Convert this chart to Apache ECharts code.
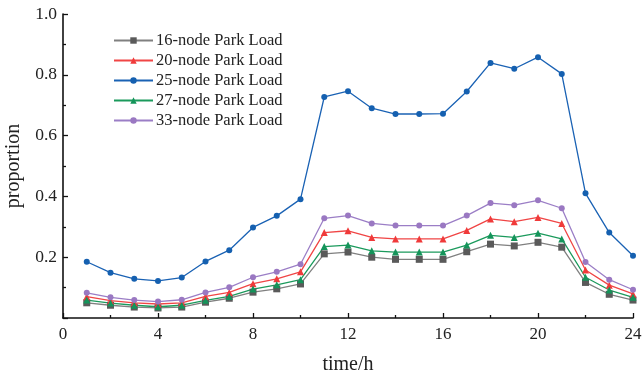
<!DOCTYPE html>
<html>
<head>
<meta charset="utf-8">
<script src="https://cdn.jsdelivr.net/npm/echarts@6/dist/echarts.min.js"></script>
<style>
  html, body { margin: 0; padding: 0; background: #fff; }
  #chart { width: 643px; height: 379px; }
</style>
</head>
<body>
<div id="chart"></div>
<script>
const hours = [1, 2, 3, 4, 5, 6, 7, 8, 9, 10, 11, 12, 13, 14, 15, 16, 17, 18, 19, 20, 21, 22, 23, 24];

const load16 = [0.050, 0.042, 0.036, 0.033, 0.036, 0.052, 0.065, 0.085, 0.096, 0.112, 0.211, 0.217,
  0.200, 0.193, 0.193, 0.193, 0.218, 0.243, 0.237, 0.249, 0.233, 0.117, 0.078, 0.059];
const load20 = [0.070, 0.057, 0.050, 0.046, 0.050, 0.071, 0.084, 0.113, 0.129, 0.152, 0.281, 0.287,
  0.265, 0.260, 0.260, 0.260, 0.288, 0.326, 0.317, 0.331, 0.311, 0.158, 0.108, 0.079];
const load25 = [0.185, 0.149, 0.129, 0.122, 0.133, 0.186, 0.223, 0.298, 0.336, 0.391, 0.727, 0.746,
  0.690, 0.671, 0.671, 0.672, 0.745, 0.839, 0.820, 0.858, 0.803, 0.410, 0.281, 0.205];
const load27 = [0.059, 0.049, 0.042, 0.037, 0.042, 0.058, 0.071, 0.095, 0.109, 0.126, 0.235, 0.240,
  0.221, 0.217, 0.217, 0.217, 0.240, 0.272, 0.265, 0.279, 0.260, 0.134, 0.092, 0.068];
const load33 = [0.083, 0.068, 0.059, 0.054, 0.060, 0.084, 0.101, 0.134, 0.152, 0.177, 0.328, 0.337,
  0.311, 0.304, 0.304, 0.304, 0.337, 0.378, 0.371, 0.387, 0.361, 0.184, 0.126, 0.093];

const seriesNames = ["16-node Park Load", "20-node Park Load", "25-node Park Load", "27-node Park Load", "33-node Park Load"];

const font = "'Liberation Serif', 'Times New Roman', serif";
const axisColor = "#111";

function pairs(values) {
  return values.map((v, i) => [hours[i], v]);
}

function line(name, values, color, markColor, symbol, size) {
  return {
    name,
    type: "line",
    data: pairs(values),
    symbol,
    symbolSize: size,
    lineStyle: { color, width: 1.3 },
    itemStyle: { color: markColor },
    emphasis: { disabled: true },
  };
}

const chart = echarts.init(document.getElementById("chart"));
chart.setOption({
  animation: false,
  grid: { left: 63, right: 10, top: 14, bottom: 61, outerBoundsMode: "none" },
  legend: {
    orient: "vertical",
    left: 108,
    top: 27,
    itemWidth: 39,
    itemHeight: 8,
    itemGap: 3,
    textStyle: { fontFamily: font, fontSize: 16.5, color: "#222", padding: [0, 0, 0, -2] },
    data: seriesNames,
  },
  xAxis: {
    type: "value",
    min: 0,
    max: 24,
    interval: 4,
    name: "time/h",
    nameLocation: "middle",
    nameGap: 37,
    nameTextStyle: { fontFamily: font, fontSize: 20, color: "#222" },
    axisLine: { lineStyle: { color: axisColor, width: 1.6 } },
    axisTick: { inside: true, length: 5, lineStyle: { color: axisColor, width: 1.3 } },
    minorTick: { show: true, splitNumber: 2, length: 3, lineStyle: { color: axisColor, width: 1.3 } },
    axisLabel: { fontFamily: font, fontSize: 17, color: "#222", margin: 8 },
    splitLine: { show: false },
  },
  yAxis: {
    type: "value",
    min: 0,
    max: 1.0,
    interval: 0.2,
    name: "proportion",
    nameLocation: "middle",
    nameGap: 38,
    nameTextStyle: { fontFamily: font, fontSize: 20, color: "#222" },
    axisLine: { show: true, lineStyle: { color: axisColor, width: 1.6 } },
    axisTick: { show: true, inside: true, length: 5, lineStyle: { color: axisColor, width: 1.3 } },
    minorTick: { show: true, splitNumber: 2, length: 3, lineStyle: { color: axisColor, width: 1.3 } },
    axisLabel: {
      fontFamily: font,
      fontSize: 17.5,
      color: "#222",
      margin: 6,
      formatter: (v) => (v === 0 ? "" : v.toFixed(1)),
    },
    splitLine: { show: false },
  },
  series: [
    line(seriesNames[0], load16, "#808080", "#5a5a5a", "rect", 7),
    line(seriesNames[1], load20, "#f04545", "#f03a3a", "triangle", 7),
    line(seriesNames[2], load25, "#1a62b4", "#1560b0", "circle", 6),
    line(seriesNames[3], load27, "#1b9a5c", "#14945a", "triangle", 7),
    line(seriesNames[4], load33, "#9b7ec6", "#9a78c2", "circle", 6),
  ],
});
</script>
</body>
</html>
